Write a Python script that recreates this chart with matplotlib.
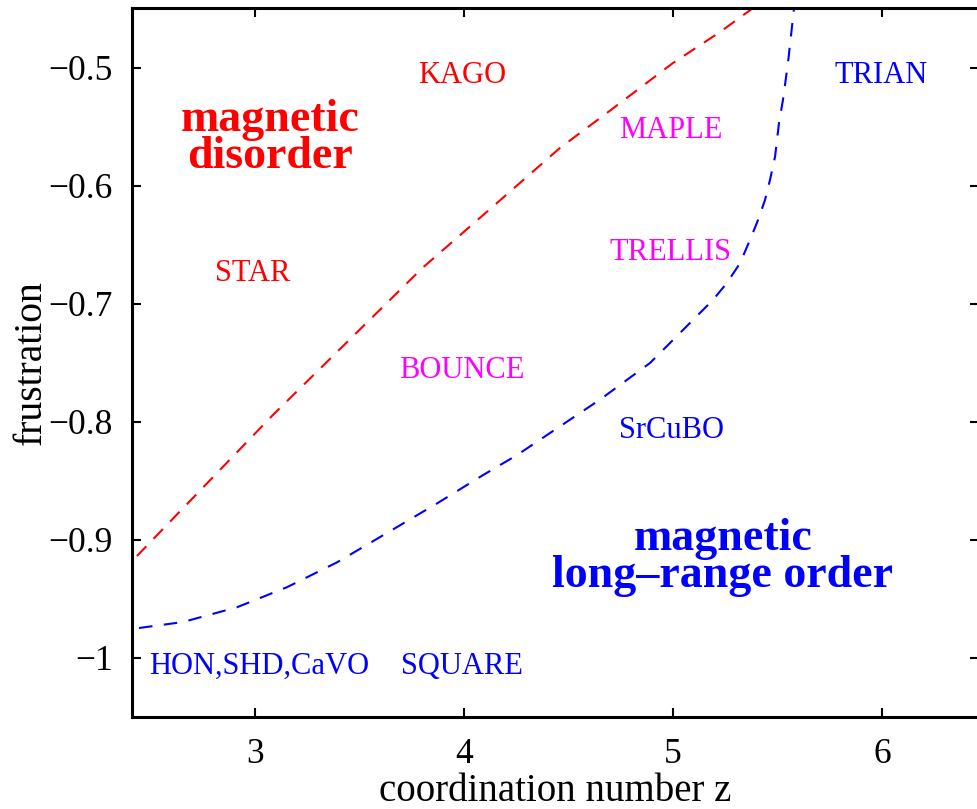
import matplotlib
matplotlib.use("Agg")
import matplotlib.pyplot as plt

plt.rcParams['font.family'] = ['Liberation Serif', 'DejaVu Serif']

# Boundary curves (coordination number z, frustration)
red_z = [2.435, 3.086, 3.804, 4.158, 4.459, 4.684, 5.0, 5.225, 5.383]
red_f = [-0.9136, -0.794, -0.669, -0.6144, -0.5678, -0.5381, -0.4958, -0.4695, -0.4492]

blue_z = [2.445, 2.656, 2.914, 3.153, 3.392, 3.632, 3.871, 4.091, 4.254, 4.651,
          4.890, 5.0, 5.191, 5.258, 5.321, 5.368, 5.407, 5.440, 5.464, 5.488,
          5.507, 5.526, 5.550, 5.579]
blue_f = [-0.9746, -0.9695, -0.957, -0.940, -0.919, -0.894, -0.869, -0.845, -0.828, -0.781,
          -0.750, -0.7305, -0.6966, -0.6822, -0.6653, -0.6458, -0.6288, -0.6119, -0.5949, -0.5754,
          -0.5466, -0.5271, -0.4958, -0.4492]

# Lattice labels
lat_names = ["KAGO", "TRIAN", "MAPLE", "STAR", "TRELLIS", "BOUNCE", "SrCuBO", "HON,SHD,CaVO", "SQUARE"]
lat_z = [3.993, 5.998, 4.990, 2.988, 4.990, 3.990, 4.993, 3.019, 3.990]
lat_f = [-0.5127, -0.5127, -0.5593, -0.6805, -0.6627, -0.7627, -0.8136, -1.0136, -1.0136]
lat_colors = ["#ff0000", "#0000ff", "#ff00ff", "#ff0000", "#ff00ff", "#ff00ff", "#0000ff", "#0000ff", "#0000ff"]

# Region labels
reg_text = ["magnetic\ndisorder", "magnetic\nlong\u2013range order"]
reg_z = [3.072, 5.239]
reg_f = [-0.5596, -0.9150]
reg_colors = ["#ff0000", "#0000ff"]

xticks = [3, 4, 5, 6]
yticks = [-1.0, -0.9, -0.8, -0.7, -0.6, -0.5]
yticklabels = ["\u22121", "\u22120.9", "\u22120.8", "\u22120.7", "\u22120.6", "\u22120.5"]

W, H = 977, 809
fig = plt.figure(figsize=(W / 100, H / 100), dpi=100)
ax = fig.add_axes([132 / W, (H - 717) / H, (979 - 132) / W, (717 - 8) / H])

ax.plot(red_z, red_f, color="#ff0000", lw=1.5, linestyle=(0, (6.5, 5)))
ax.plot(blue_z, blue_f, color="#0000ff", lw=1.5, linestyle=(0, (6.5, 5.5)))

for name, z, f, c in zip(lat_names, lat_z, lat_f, lat_colors):
    ax.text(z, f, name, color=c, fontsize=22, ha="center", va="baseline")

for t, z, f, c in zip(reg_text, reg_z, reg_f, reg_colors):
    ax.text(z, f, t, color=c, fontsize=33, fontweight="bold", ha="center", va="center",
            multialignment="center", linespacing=0.85)

ax.set_xlim(2.4115, 6.464)
ax.set_ylim(-1.05, -0.4492)
ax.set_xticks(xticks)
ax.set_xticklabels([str(v) for v in xticks])
ax.set_yticks(yticks)
ax.set_yticklabels(yticklabels)

ax.tick_params(direction="in", length=6.5, width=1.5, labelsize=25.5,
               top=True, right=True)
ax.tick_params(axis="x", pad=15)
ax.tick_params(axis="y", pad=14)
for s in ax.spines.values():
    s.set_linewidth(2.2)

ax.set_xlabel("coordination number z", fontsize=28, labelpad=1.5)
ax.set_ylabel("frustration", fontsize=28.5, labelpad=-1)

fig.savefig("out.png", dpi=100)
